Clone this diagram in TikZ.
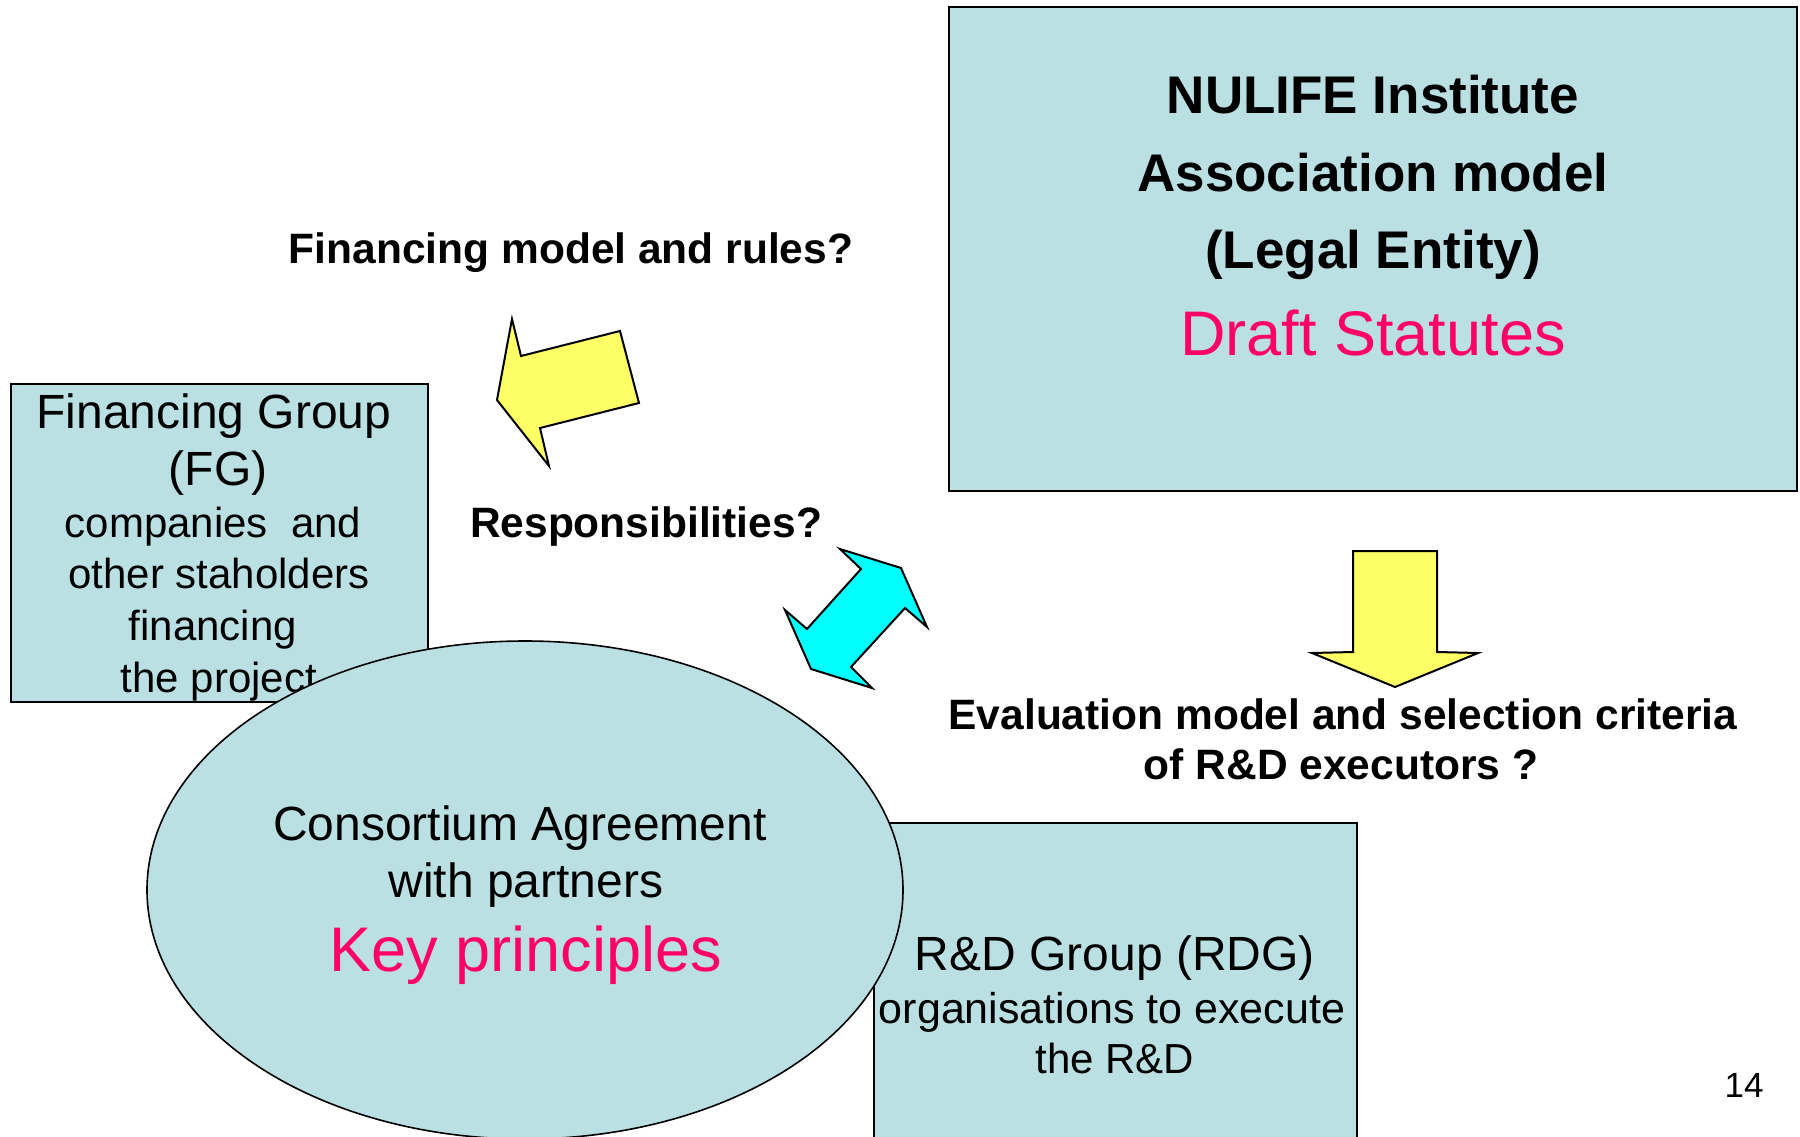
\documentclass[tikz,border=0pt]{standalone}
\usepackage{fontspec}
\setmainfont{Liberation Sans}
\usetikzlibrary{shapes.geometric}
\definecolor{boxfill}{HTML}{BBE0E3}
\definecolor{keypink}{HTML}{FF0066}
\definecolor{arrowyellow}{HTML}{FFFF66}
\definecolor{arrowcyan}{HTML}{00FFFF}
\newcommand{\fs}[1]{\fontsize{#1}{#1}\selectfont}
\tikzset{
  groupbox/.style={draw=black, fill=boxfill, line width=2pt},
  blockarrow/.style={draw=black, line width=2pt, line join=miter},
  txt/.style={anchor=base, inner sep=0pt, outer sep=0pt},
}
\begin{document}
\begin{tikzpicture}[x=1pt, y=-1pt]
\useasboundingbox (0,0) rectangle (1800,1137);
\fill[white] (0,0) rectangle (1800,1137);

% NULIFE box
\draw[groupbox] (949,7) rectangle (1797,491);
\node[txt, font=\fs{53}\bfseries] (nul1) at (1373,114) {NULIFE Institute};
\node[txt, font=\fs{53}\bfseries] (nul2) at (1373,191) {Association model};
\node[txt, font=\fs{53}\bfseries] (nul3) at (1373,268) {(Legal Entity)};
\node[txt, font=\fs{63}, text=keypink] (nul4) at (1373,355) {Draft Statutes};

% Financing group box
\draw[groupbox] (11,384) rectangle (428,702);
\node[txt, font=\fs{48}] (fg1) at (214,428) {Financing Group};
\node[txt, font=\fs{48}] (fg2) at (218,485) {(FG)};
\node[txt, font=\fs{42}] (fg3) at (213,537) {companies\ \ and};
\node[txt, font=\fs{42}] (fg4) at (219,588) {other staholders};
\node[txt, font=\fs{42}] (fg5) at (213,640) {financing};
\node[txt, font=\fs{42}] (fg6) at (219,692) {the project};

% R&D group box
\draw[groupbox] (874,823) rectangle (1357,1150);
\node[txt, font=\fs{48}] (rd1) at (1115,970) {R\&D Group (RDG)};
\node[txt, font=\fs{43}] (rd2) at (1112,1023) {organisations to execute};
\node[txt, font=\fs{42}] (rd3) at (1115,1073) {the R\&D};

% Consortium ellipse
\node[ellipse, draw=black, fill=boxfill, line width=1.6pt, minimum width=756pt, minimum height=498pt, inner sep=0pt] (cons) at (525,890) {};
\node[txt, font=\fs{48}] (ca1) at (520,840) {Consortium Agreement};
\node[txt, font=\fs{48}] (ca2) at (526,897) {with partners};
\node[txt, font=\fs{63}, text=keypink] (ca3) at (526,971) {Key principles};

% Question labels
\node[txt, font=\fs{42.5}\bfseries] (q1) at (571,263) {Financing model and rules?};
\node[txt, font=\fs{42.5}\bfseries] (q2) at (646,537) {Responsibilities?};
\node[txt, font=\fs{42.5}\bfseries] (q3) at (1343,729) {Evaluation model and selection criteria};
\node[txt, font=\fs{42.5}\bfseries] (q4) at (1341,779) {of R\&D executors ?};

% Page number
\node[txt, font=\fs{35}] (pg) at (1744,1097) {14};

% Yellow arrow pointing left
\draw[blockarrow, fill=arrowyellow] (497,400) -- (512,319) -- (521,356) -- (620,331) -- (639,403) -- (540,428) -- (549,466) -- cycle;

% Cyan double arrow
\draw[blockarrow, fill=arrowcyan] (840,549) -- (901,568) -- (927,627) -- (905,608) -- (851,667) -- (872,688) -- (811,669) -- (785,610) -- (807,629) -- (861,569) -- cycle;

% Yellow arrow pointing down
\draw[blockarrow, fill=arrowyellow] (1353,551) -- (1437,551) -- (1437,652) -- (1478,653) -- (1395,687) -- (1312,653) -- (1353,652) -- cycle;
\end{tikzpicture}
\end{document}
